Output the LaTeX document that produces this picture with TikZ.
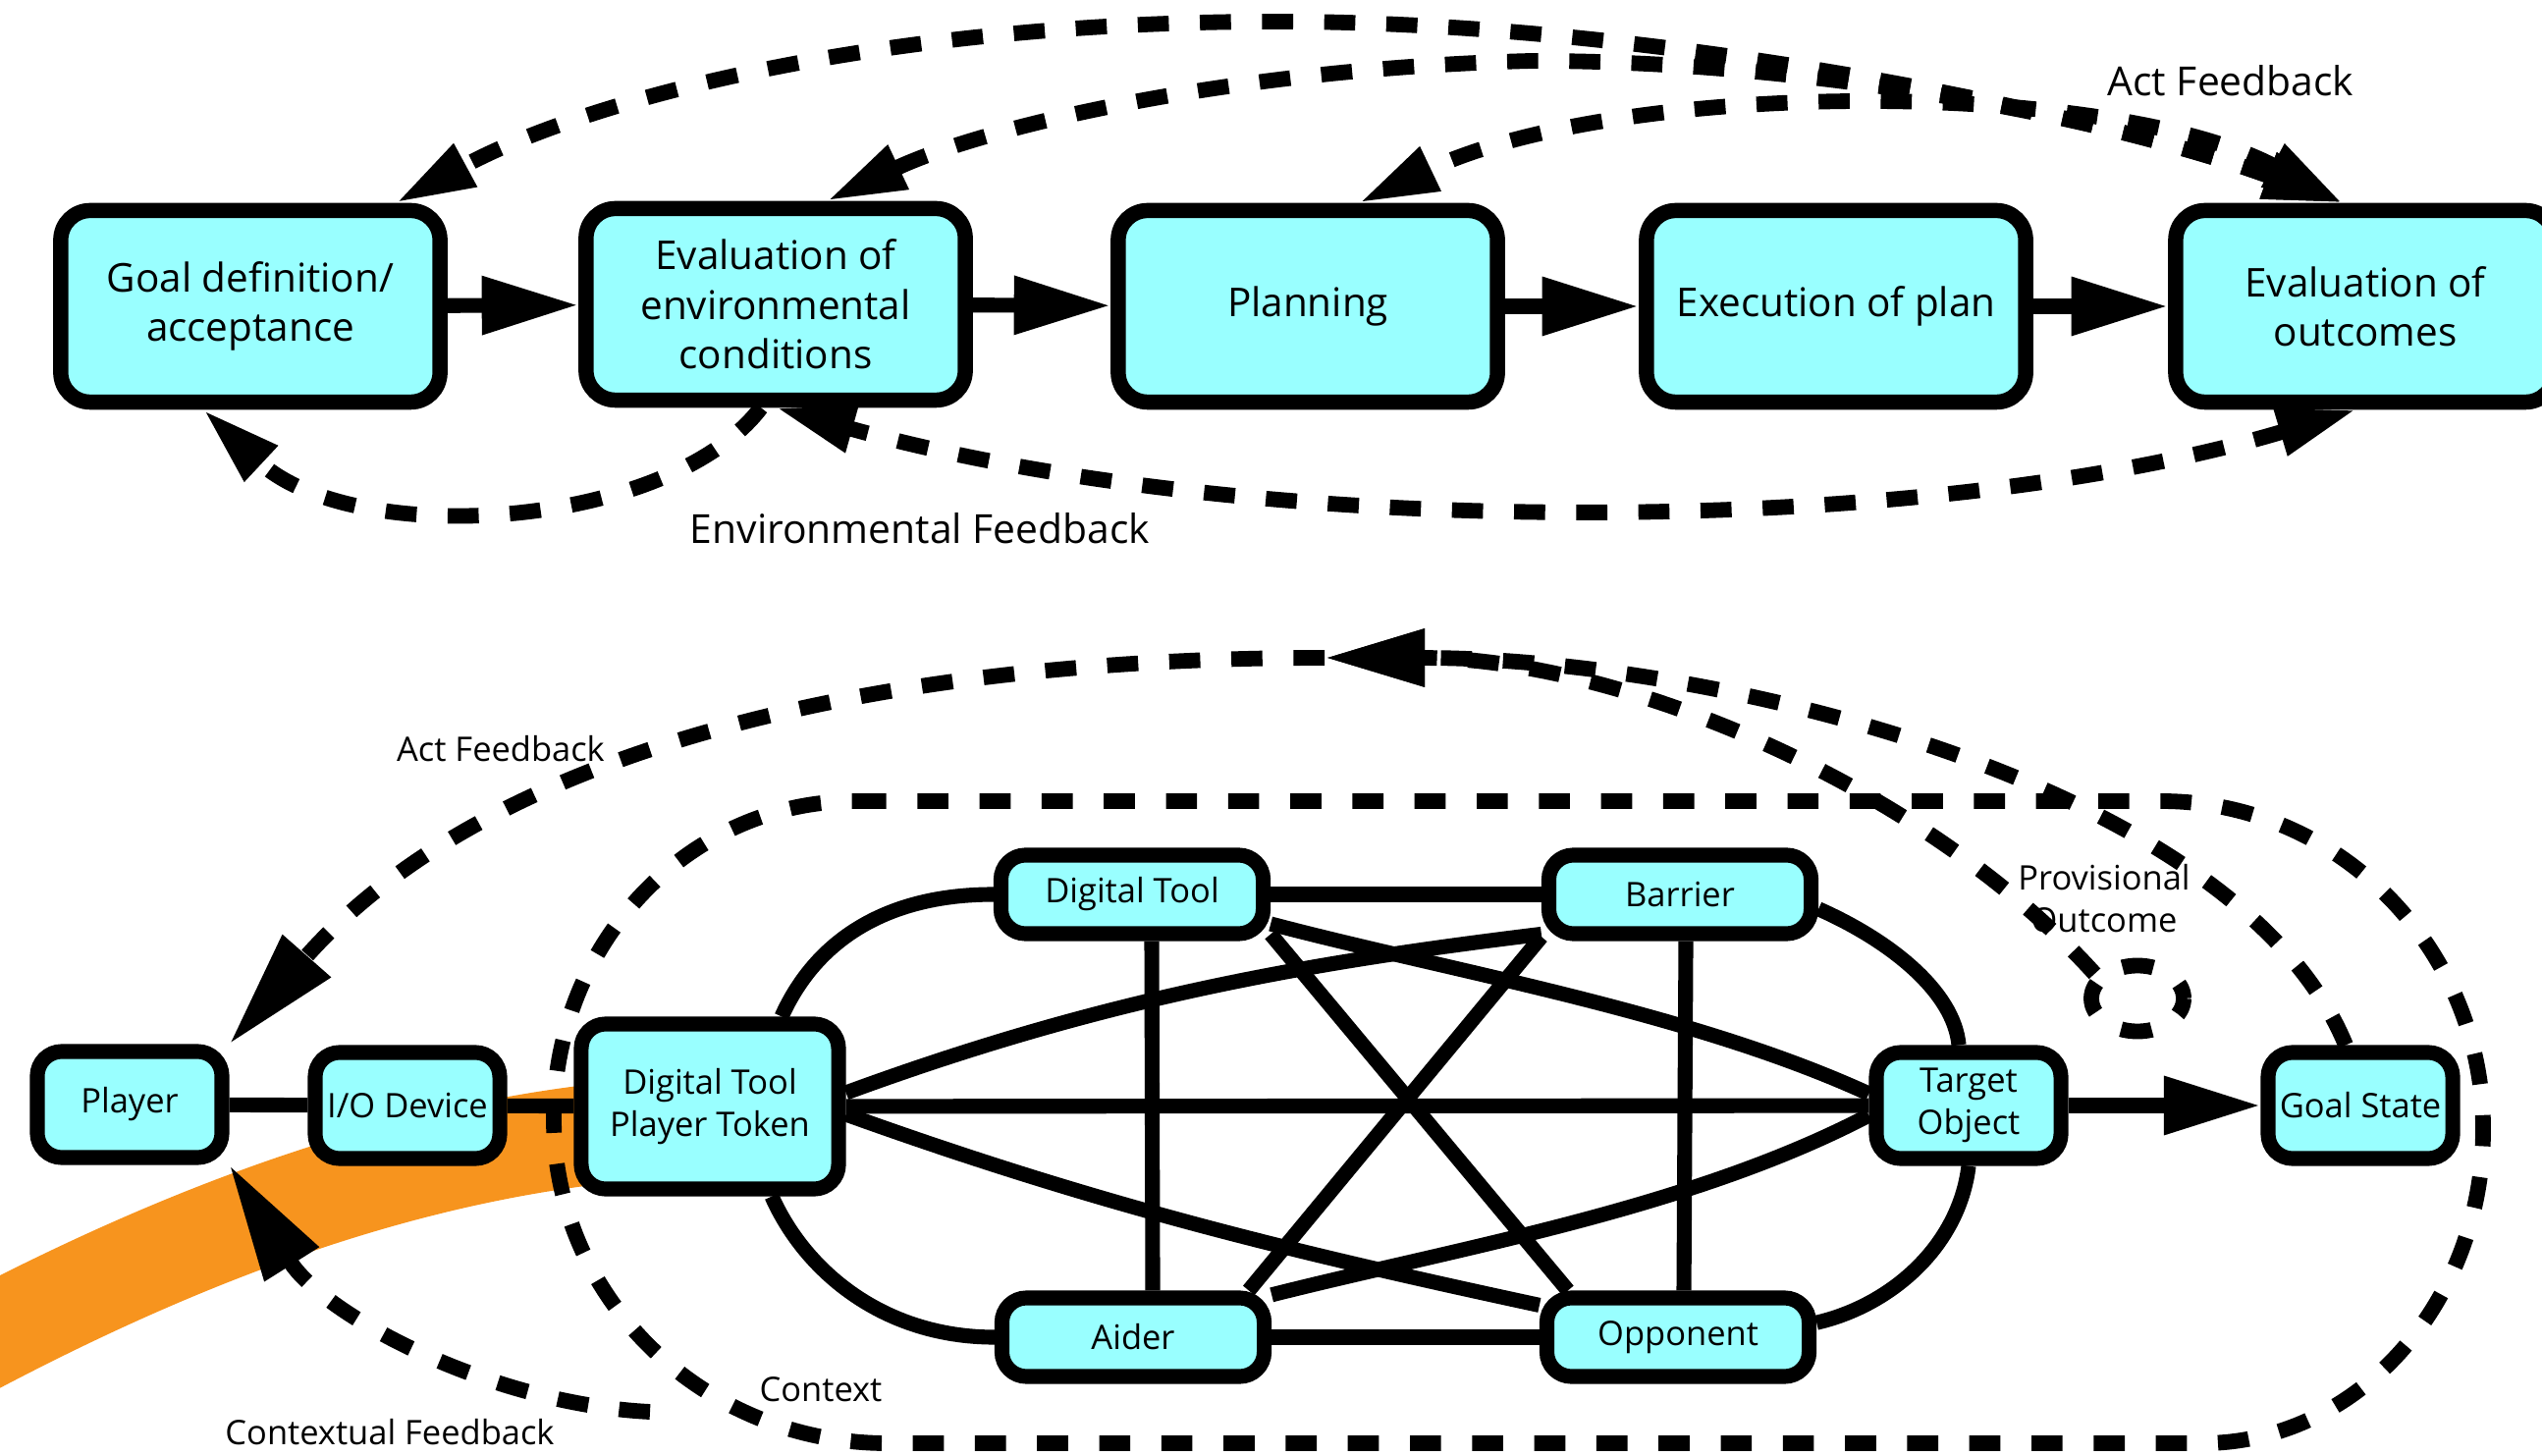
\documentclass[tikz,border=0pt]{standalone}
\usepackage{fontspec}
\setmainfont{Open Sans}
\usetikzlibrary{arrows.meta}
\usetikzlibrary{shapes.geometric}
\usetikzlibrary{calc}
\definecolor{gm-fill}{HTML}{99FFFF}
\definecolor{gm-band}{HTML}{F7941E}
\definecolor{gm-line}{HTML}{000000}

\tikzset{
    stage/.style={draw=gm-line, line width=4.4pt, fill=gm-fill, rounded corners=0.3cm,
        minimum width=3.86cm, minimum height=1.95cm, inner sep=0pt, align=center,
        font=\fontsize{11.5}{14.3}\selectfont},
    element/.style={draw=gm-line, line width=4.3pt, fill=gm-fill, rounded corners=0.25cm,
        inner sep=0pt, align=center, font=\fontsize{9.8}{12.2}\selectfont},
    elem-small/.style={element, minimum width=1.88cm, minimum height=1.08cm},
    elem-wide/.style={element, minimum width=2.67cm, minimum height=0.8cm},
    link/.style={draw=gm-line, line width=4.3pt},
    flow/.style={link, -{Triangle[length=28pt, width=16pt]}},
    feedback/.style={draw=gm-line, line width=4.5pt, dash pattern=on 9pt off 9pt},
    fbnote/.style={font=\fontsize{11.6}{14}\selectfont, anchor=base},
    fbnote-small/.style={font=\fontsize{9.8}{12}\selectfont, anchor=base, align=center},
    fbtip/.tip={Triangle[length=23pt, width=13pt]},
    acttip/.tip={Triangle[length=29pt, width=15.6pt]},
    playertip/.tip={Triangle[length=34pt, width=17.5pt]}
}

\begin{document}
\begin{tikzpicture}[x=0.01cm, y=-0.01cm]
    \clip (0,0) rectangle (2589,1483);

    % --- Upper model: goal-directed action cycle ---
    \node[stage] (goal) at (255,312) {Goal definition/\\acceptance};
    \node[stage] (evalenv) at (790,310) {Evaluation of\\environmental\\conditions};
    \node[stage] (plan) at (1332,312) {Planning};
    \node[stage] (exec) at (1870,312) {Execution of plan};
    \node[stage] (outc) at (2409,312) {Evaluation of\\outcomes};

    \draw[flow] (goal) -- (evalenv);
    \draw[flow] (evalenv) -- (plan);
    \draw[flow] (plan) -- (exec);
    \draw[flow] (exec) -- (outc);

    % act feedback (above)
    \draw[feedback, fbtip-fbtip] ([xshift=-0.23cm]outc.north) .. controls (2150,120) and (1700,22) .. (1300,22)
        .. controls (900,22) and (600,100) .. ([xshift=1.48cm]goal.north);
    \draw[feedback, fbtip-fbtip] ([xshift=-0.23cm]outc.north) .. controls (2150,120) and (1850,62) .. (1560,62)
        .. controls (1250,70) and (1000,130) .. ([xshift=0.52cm]evalenv.north);
    \draw[feedback, fbtip-fbtip] ([xshift=-0.23cm]outc.north) .. controls (2150,80) and (1650,80) .. ([xshift=0.52cm]plan.north);
    \node[fbnote] (actnote) at (2272,98) {Act Feedback};

    % environmental feedback (below)
    \draw[feedback, fbtip-fbtip] ([xshift=-0.09cm]outc.south) .. controls (1955,550) and (1272,550) .. (evalenv.south);
    \draw[feedback, -fbtip] ([xshift=-0.15cm]evalenv.south) .. controls (680,540) and (360,560) .. ([xshift=-0.48cm]goal.south);
    \node[fbnote] (envnote) at (937,554) {Environmental Feedback};

    % --- Lower model: player, game elements and context ---
    \coordinate (bandin) at (-100,1410);
    \coordinate (bandout) at (660,1150);
    \draw[gm-band, line width=29pt] (bandin) .. controls (150,1270) and (400,1170) .. (bandout);

    \draw[feedback] (871,816) -- (2201,816) .. controls (2382,816) and (2529,966) .. (2529,1150)
        .. controls (2529,1327) and (2401,1470) .. (2243,1470) -- (904,1470)
        .. controls (716,1470) and (564,1322) .. (564,1140) .. controls (564,961) and (701,816) .. cycle;
    \node[fbnote-small] (ctxnote) at (836,1427) {Context};

    \node[elem-small] (player) at (132,1125) {Player};
    \node[elem-small] (io) at (415,1126) {I/O Device};
    \node[element, minimum width=2.62cm, minimum height=1.68cm] (dtpt) at (723,1127) {Digital Tool\\Player Token};
    \node[elem-wide] (dtool) at (1153,911) {Digital Tool};
    \node[elem-wide] (barrier) at (1711,911) {Barrier};
    \node[elem-wide] (aider) at (1154,1362) {Aider};
    \node[elem-wide] (opp) at (1709,1362) {Opponent};
    \node[elem-small] (target) at (2005,1126) {Target\\Object};
    \node[elem-small] (gstate) at (2404,1126) {Goal State};

    \draw[link] (player) -- (io);
    \draw[link] (io) -- (dtpt);
    \draw[link] (dtpt) -- (target);
    \draw[link] (dtool) -- (barrier);
    \draw[link] (aider) -- (opp);
    \draw[link] ([xshift=0.2cm]dtool.south) -- ([xshift=0.2cm]aider.north);
    \draw[link] ([xshift=0.06cm]barrier.south) -- ([xshift=0.06cm]opp.north);
    \draw[link] (dtool.344) -- (opp.157);
    \draw[link] (barrier.197) -- (aider.22);
    \draw[link] ([xshift=0.73cm]dtpt.north) .. controls (830,960) and (900,911) .. (dtool.west);
    \draw[link] ([xshift=0.63cm]dtpt.south) .. controls (820,1295) and (900,1362) .. (aider.west);
    \draw[link] ([yshift=0.14cm]dtpt.east) .. controls (1123,1017) and (1327,981) .. (barrier.196);
    \draw[link] ([yshift=-0.08cm]dtpt.east) .. controls (1123,1229) and (1320,1276) .. (opp.167);
    \draw[link] (dtool.348) .. controls (1480,990) and (1720,1030) .. ([yshift=0.12cm]target.west);
    \draw[link] (aider.17) .. controls (1480,1272) and (1720,1232) .. ([yshift=-0.1cm]target.west);
    \draw[link] (barrier.354) .. controls (1925,958) and (1990,1010) .. ([xshift=-0.1cm]target.north);
    \draw[link] (opp.6) .. controls (1925,1330) and (1995,1270) .. (target.south);
    \draw[flow] (target) -- (gstate);

    % provisional outcome and act feedback
    \node[draw=gm-line, line width=4.5pt, dash pattern=on 9pt off 9pt, dash phase=4.5pt, ellipse,
        minimum width=0.94cm, minimum height=0.67cm, inner sep=0pt] (provloop) at (2177,1017) {};
    \node[fbnote-small] (provnote) at (2143,949) {Provisional\\Outcome};
    \coordinate (actpeak) at (1349,670);
    \draw[feedback, -acttip] ([xshift=-0.15cm]gstate.north) .. controls (2280,800) and (1750,670) .. (actpeak);
    \draw[feedback, -acttip] (provloop.150) .. controls (1960,800) and (1650,670) .. (actpeak);
    \draw[feedback, -playertip] (actpeak) .. controls (900,670) and (500,760) .. (player.north east);
    \node[fbnote-small] (actnote2) at (510,776) {Act Feedback};

    % contextual feedback
    \coordinate (ctxfb) at (662,1438);
    \draw[feedback, -playertip] (ctxfb) .. controls (500,1430) and (330,1340) .. (player.south east);
    \node[fbnote-small] (ctxfbnote) at (397,1471) {Contextual Feedback};
\end{tikzpicture}
\end{document}
